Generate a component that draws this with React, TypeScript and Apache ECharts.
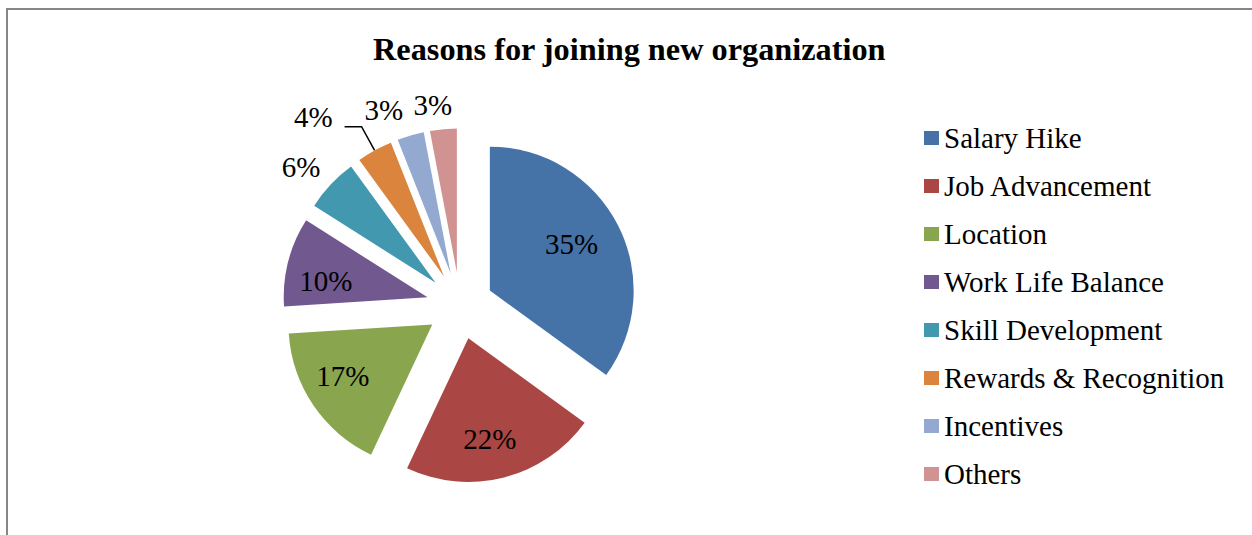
import React, { useEffect, useRef } from 'react';
import * as echarts from 'echarts';

const categories = [
  'Salary Hike',
  'Job Advancement',
  'Location',
  'Work Life Balance',
  'Skill Development',
  'Rewards & Recognition',
  'Incentives',
  'Others',
];
const shares = [35, 22, 17, 10, 6, 4, 3, 3];
const colors = ['#4572A7', '#AA4643', '#89A54E', '#71588F', '#4198AF', '#DB843D', '#93A9CF', '#D19392'];
const chartTitle = 'Reasons for joining new organization';

export default function App() {
  const ref = useRef<HTMLDivElement>(null);
  useEffect(() => {
    const chart = echarts.init(ref.current!, null, { renderer: 'svg' });
    const serif = 'Liberation Serif';
    // label placement tweaks (label line length, second segment, distance to line)
    const place: Record<string, { len: number; len2: number; dist: number; line?: boolean; raise?: boolean }> = {
      'Salary Hike': { len: -41.4, len2: 0, dist: -36.2 },
      'Job Advancement': { len: -39.6, len2: 0, dist: -31.1 },
      Location: { len: -52.3, len2: 0, dist: -12.9 },
      'Work Life Balance': { len: -78, len2: 0, dist: 11.3 },
      'Skill Development': { len: 25, len2: 0, dist: -8 },
      'Rewards & Recognition': { len: 27, len2: 17, dist: 12, line: true, raise: true },
      Incentives: { len: 26.5, len2: 0, dist: 0 },
      Others: { len: 24, len2: 0, dist: -11 },
    };
    const data = categories.map((name, i) => {
      const o = place[name];
      return {
        name,
        value: shares[i],
        selected: true,
        itemStyle: { color: colors[i] },
        label: o.raise
          ? {
              distanceToLabelLine: o.dist,
              formatter: '{t|{c}%}',
              rich: { t: { fontFamily: serif, fontSize: 29, color: '#000', padding: [0, 0, 19, 0] } },
            }
          : { distanceToLabelLine: o.dist },
        labelLine: { show: !!o.line, length: o.len, length2: o.len2 },
      };
    });
    chart.setOption({
      animation: false,
      backgroundColor: '#ffffff',
      textStyle: { fontFamily: serif },
      title: {
        text: chartTitle,
        left: 373,
        top: 33,
        padding: 0,
        textStyle: { fontFamily: serif, fontSize: 32.3, fontWeight: 'bold', color: '#000' },
      },
      legend: {
        orient: 'vertical',
        left: 924,
        top: 123,
        padding: 0,
        itemWidth: 15,
        itemHeight: 14,
        itemGap: 18,
        icon: 'rect',
        selectedMode: false,
        data: categories,
        textStyle: { fontFamily: serif, fontSize: 29, color: '#000', lineHeight: 30 },
      },
      graphic: [
        {
          type: 'rect',
          shape: { x: 7, y: 9, width: 1400, height: 700 },
          style: { fill: 'none', stroke: '#868686', lineWidth: 2 },
          silent: true,
        },
      ],
      series: [
        {
          type: 'pie',
          name: 'Reasons',
          center: [460, 305.7],
          radius: 143.8,
          startAngle: 90,
          clockwise: true,
          selectedMode: 'multiple',
          selectedOffset: 33.5,
          avoidLabelOverlap: false,
          emphasis: { disabled: true },
          select: { itemStyle: { borderWidth: 0 } },
          label: {
            show: true,
            position: 'outside',
            fontFamily: serif,
            fontSize: 29,
            color: '#000',
            formatter: '{c}%',
          },
          labelLine: { lineStyle: { color: '#000', width: 1.5 }, minTurnAngle: 0, maxSurfaceAngle: 180 },
          data,
        },
      ],
    });
    return () => chart.dispose();
  }, []);
  return <div ref={ref} style={{ position: 'fixed', left: 0, top: 0, width: 1252, height: 535 }} />;
}
